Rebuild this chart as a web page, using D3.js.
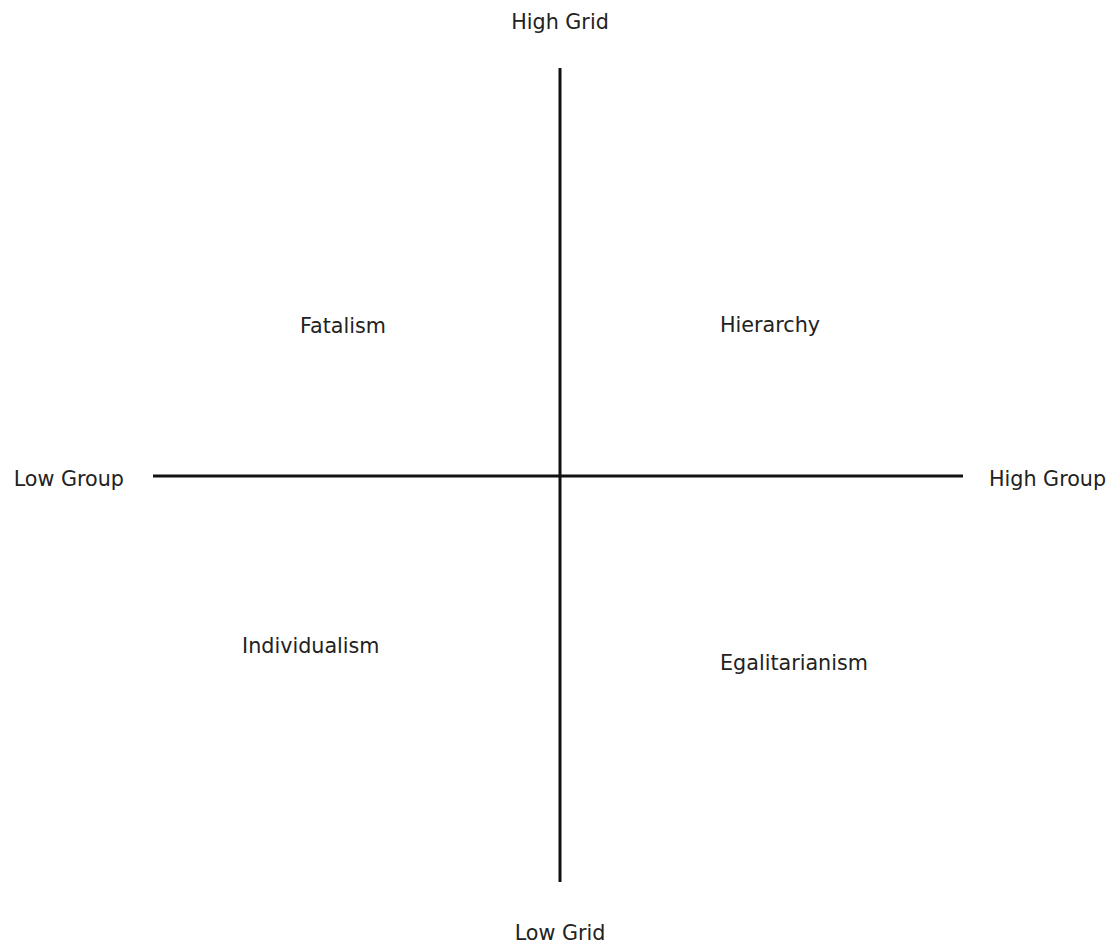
<!DOCTYPE html>
<html>
<head>
<meta charset="utf-8">
<script src="https://cdn.jsdelivr.net/npm/d3@7"></script>
<style>
  html, body { margin: 0; padding: 0; background: #fff; }
  svg text {
    font-family: "DejaVu Sans", sans-serif;
    font-size: 20.7px;
    fill: #222;
  }
</style>
</head>
<body>
<svg id="chart" width="1112" height="947"></svg>
<script>
// axis end labels
const gridLabels = ["Low Grid", "High Grid"];
const groupLabels = ["Low Group", "High Group"];

// quadrant names and where they sit in (group, grid) space
const quadrantNames = ["Fatalism", "Hierarchy", "Individualism", "Egalitarianism"];
const quadrantGroup = [-0.637, 0.4, -0.78, 0.4];
const quadrantGrid = [0.349, 0.351, -0.437, -0.479];

const width = 1112;
const height = 947;
const margin = { top: 68, right: 149, bottom: 65, left: 153 };

const svg = d3.select("#chart");

// group -> horizontal, grid -> vertical
const x = d3.scaleLinear()
  .domain([-1, 1])
  .range([margin.left, width - margin.right]);

const y = d3.scaleLinear()
  .domain([-1, 1])
  .range([height - margin.bottom, margin.top]);

// 가로축 (group)
svg.append("line")
  .attr("x1", x(-1))
  .attr("x2", x(1))
  .attr("y1", y(0) + 1)
  .attr("y2", y(0) + 1)
  .attr("stroke", "#111")
  .attr("stroke-width", 3);

// 세로축 (grid)
svg.append("line")
  .attr("x1", x(0) + 2)
  .attr("x2", x(0) + 2)
  .attr("y1", y(1))
  .attr("y2", y(-1))
  .attr("stroke", "#111")
  .attr("stroke-width", 3);

// grid labels, top and bottom
svg.append("text")
  .text(gridLabels[1])
  .attr("x", x(0) + 2)
  .attr("y", y(1) - 39)
  .attr("text-anchor", "middle");

svg.append("text")
  .text(gridLabels[0])
  .attr("x", x(0) + 2)
  .attr("y", y(-1) + 58)
  .attr("text-anchor", "middle");

// group labels, left and right
svg.append("text")
  .text(groupLabels[0])
  .attr("x", x(-1) - 29)
  .attr("y", y(0) + 11)
  .attr("text-anchor", "end");

svg.append("text")
  .text(groupLabels[1])
  .attr("x", x(1) + 26)
  .attr("y", y(0) + 11)
  .attr("text-anchor", "start");

// quadrant names
svg.append("g")
  .selectAll("text")
  .data(quadrantNames)
  .enter()
  .append("text")
  .text((d) => d)
  .attr("x", (d, i) => x(quadrantGroup[i]))
  .attr("y", (d, i) => y(quadrantGrid[i]))
  .attr("text-anchor", "start");
</script>
</body>
</html>
